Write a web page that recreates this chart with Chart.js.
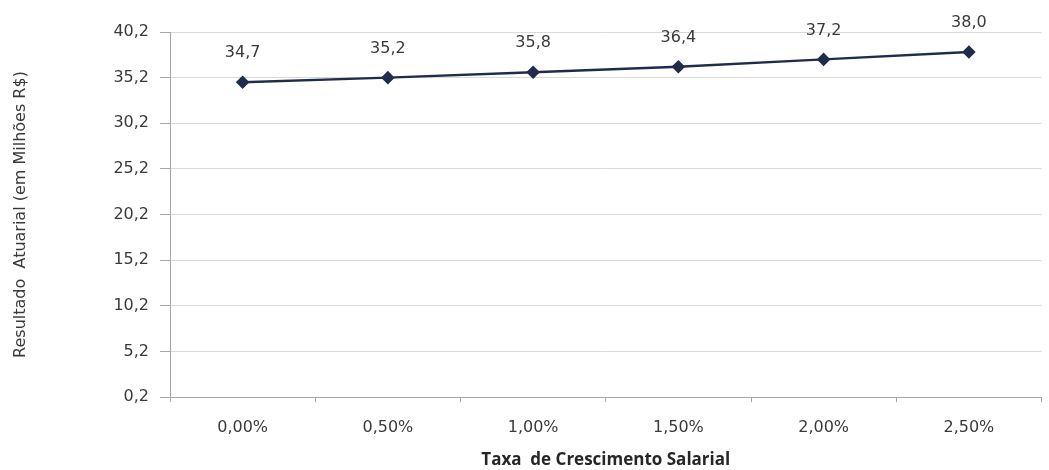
<!DOCTYPE html>
<html>
<head>
<meta charset="utf-8">
<script src="https://cdn.jsdelivr.net/npm/chart.js@4/dist/chart.umd.min.js"></script>
<style>
  html, body { margin: 0; padding: 0; background: #fff; }
  #wrap { width: 1049px; height: 470px; position: relative; }
</style>
</head>
<body>
<div id="wrap"><canvas id="chart"></canvas></div>
<script>
    var categories = ['0,00%', '0,50%', '1,00%', '1,50%', '2,00%', '2,50%'];
    var resultado = [34.7, 35.2, 35.8, 36.4, 37.2, 38.0];
    var yTicks = [0.2, 5.2, 10.2, 15.2, 20.2, 25.2, 30.2, 35.2, 40.2];

    function fmt(v) { return v.toFixed(1).replace('.', ','); }

    // draws the value above each point, like the excel data labels
    var valueLabels = {
        id: 'valueLabels',
        afterDatasetsDraw: function (chart) {
            var ctx = chart.ctx;
            var meta = chart.getDatasetMeta(0);
            ctx.save();
            ctx.font = '16px "DejaVu Sans"';
            ctx.fillStyle = '#3a3a3a';
            ctx.textAlign = 'center';
            ctx.textBaseline = 'middle';
            meta.data.forEach(function (pt, i) {
                ctx.fillText(fmt(resultado[i]), pt.x, pt.y - 29);
            });
            ctx.restore();
        }
    };

    var ctx = document.getElementById('chart');
    new Chart(ctx, {
        type: 'line',
        data: {
            labels: categories,
            datasets: [{
                data: resultado,
                borderColor: '#1f2c4c',
                backgroundColor: '#1f2c4c',
                borderWidth: 2.5,
                pointStyle: 'rectRot',
                pointRadius: 5,
                pointHoverRadius: 5,
                tension: 0
            }]
        },
        options: {
            responsive: true,
            maintainAspectRatio: false,
            animation: false,
            events: [],
            layout: { padding: { left: 6, right: 0, top: 32, bottom: 0 } },
            plugins: {
                legend: { display: false },
                tooltip: { enabled: false }
            },
            scales: {
                x: {
                    offset: true,
                    grid: {
                        offset: true,
                        drawOnChartArea: false,
                        drawTicks: true,
                        tickLength: 5,
                        tickColor: '#a6a6a6'
                    },
                    border: { color: '#a6a6a6' },
                    ticks: {
                        color: '#3a3a3a',
                        font: { family: 'DejaVu Sans', size: 16 },
                        padding: 16,
                        maxRotation: 0
                    },
                    title: {
                        display: true,
                        text: 'Taxa  de Crescimento Salarial',
                        color: '#262626',
                        font: { family: 'Open Sans', size: 17, weight: 'bold' },
                        padding: { top: 0, bottom: 0 }
                    },
                    afterFit: function (scale) { scale.height = 470 - 397; }
                },
                y: {
                    min: 0.2,
                    max: 40.2,
                    afterBuildTicks: function (scale) {
                        scale.ticks = yTicks.map(function (v) { return { value: v }; });
                    },
                    grid: {
                        color: '#d9d9d9',
                        drawTicks: true,
                        tickLength: 10,
                        tickColor: '#a6a6a6'
                    },
                    border: { color: '#a6a6a6' },
                    ticks: {
                        color: '#3a3a3a',
                        font: { family: 'DejaVu Sans', size: 16 },
                        padding: 11,
                        callback: function (v) { return fmt(v); }
                    },
                    title: {
                        display: true,
                        text: 'Resultado  Atuarial (em Milhões R$)',
                        color: '#3a3a3a',
                        font: { family: 'DejaVu Sans', size: 16 },
                        padding: { top: 5, bottom: 0 }
                    },
                    afterFit: function (scale) { scale.width = 170 - 6; }
                }
            }
        },
        plugins: [valueLabels]
    });
</script>
</body>
</html>
